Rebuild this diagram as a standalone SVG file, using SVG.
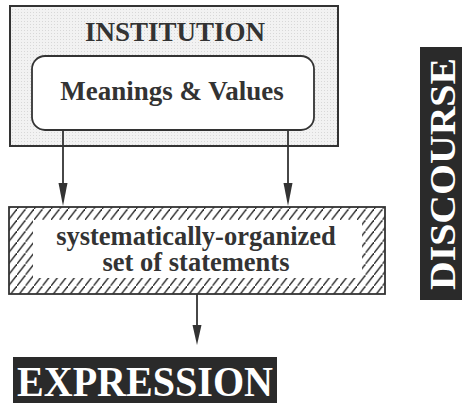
<svg xmlns="http://www.w3.org/2000/svg" width="464" height="403" viewBox="0 0 464 403">
<style>
.lbl{font-family:"Liberation Serif","Times New Roman",serif;font-weight:bold;fill:#333;text-anchor:middle}
.big{font-family:"Liberation Serif","Times New Roman",serif;font-weight:bold;fill:#fff;text-anchor:middle}
.edge{stroke:#333;stroke-width:1.8;fill:none}
.head{fill:#333;stroke:none}
</style>
<defs>
<pattern id="hatch" patternUnits="userSpaceOnUse" width="8.5" height="11">
<path d="M-1,12.3 L9.5,-1.3" stroke="#333" stroke-width="1.4"/>
</pattern>
<pattern id="stipple" patternUnits="userSpaceOnUse" width="3" height="3">
<rect width="3" height="3" fill="#f2f2f2"/>
<rect width="1" height="1" fill="#d8d8d8"/>
</pattern>
</defs>
<g id="institution">
<rect x="10" y="6" width="328" height="140" fill="url(#stipple)" stroke="#333" stroke-width="2"/>
<text class="lbl" x="175" y="41" font-size="27">INSTITUTION</text>
</g>
<g id="meanings">
<rect x="32" y="56" width="282" height="74" rx="13" ry="13" fill="#fff" stroke="#333" stroke-width="1.8"/>
<text class="lbl" x="172" y="100" font-size="27">Meanings &amp; Values</text>
</g>
<g id="statements">
<rect x="9" y="207" width="376" height="87" fill="url(#hatch)" stroke="#333" stroke-width="1.8"/>
<rect x="33" y="220" width="329" height="58" fill="#fff"/>
<text class="lbl" x="196" y="245" font-size="26.5">systematically-organized</text>
<text class="lbl" x="196" y="271" font-size="26.5">set of statements</text>
</g>
<g id="expression">
<rect x="13" y="357" width="264" height="46" fill="#2a2a2a"/>
<text class="big" x="145" y="396" font-size="43" textLength="256" lengthAdjust="spacingAndGlyphs">EXPRESSION</text>
</g>
<g id="discourse">
<rect x="420" y="47" width="42" height="253" fill="#2a2a2a"/>
<text class="big" transform="translate(455,174) rotate(-90)" x="0" y="0" font-size="36" textLength="232" lengthAdjust="spacingAndGlyphs">DISCOURSE</text>
</g>
<g id="connectors">
<line class="edge" x1="63" y1="130" x2="63" y2="190"/>
<polygon class="head" points="58.5,183 67.5,183 63,206"/>
<line class="edge" x1="288" y1="130" x2="288" y2="190"/>
<polygon class="head" points="283.5,183 292.5,183 288,206"/>
<line class="edge" x1="197" y1="294" x2="197" y2="330"/>
<polygon class="head" points="192.5,325 201.5,325 197,345"/>
</g>
</svg>
